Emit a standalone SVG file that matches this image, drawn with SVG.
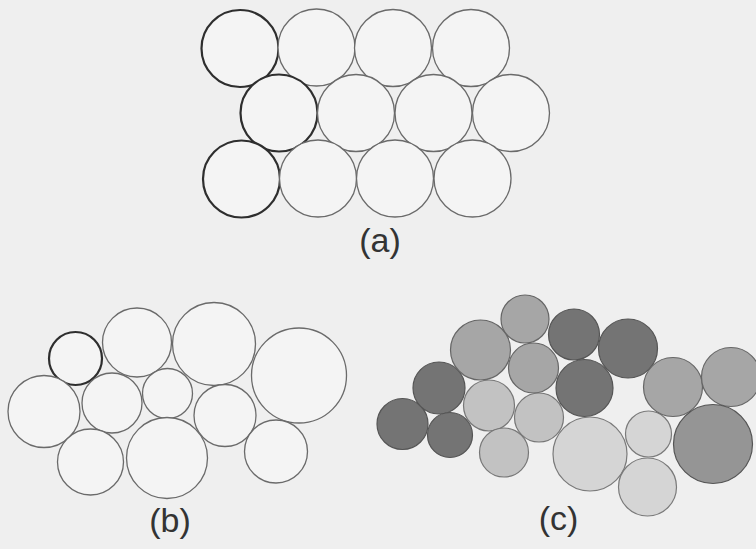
<svg xmlns="http://www.w3.org/2000/svg" width="756" height="549" viewBox="0 0 756 549">
<style>
.bg{fill:#efefef}
.o{fill:#f4f4f4;stroke:#6a6a6a;stroke-width:1.3}
.ob{fill:#f4f4f4;stroke:#2e2e2e;stroke-width:2.2}
.d{fill:#747474;stroke:#555;stroke-width:1.2}
.m{fill:#a6a6a6;stroke:#666;stroke-width:1.2}
.l{fill:#c2c2c2;stroke:#777;stroke-width:1.2}
.vl{fill:#d5d5d5;stroke:#7a7a7a;stroke-width:1.2}
.md{fill:#959595;stroke:#555;stroke-width:1.2}
.lab{font-family:'Liberation Sans',Arial,sans-serif;font-size:34px;fill:#333;text-anchor:middle}
</style>
<rect class="bg" width="756" height="549"/>
<g id="panel-a">
<circle id="a1" class="ob" cx="240" cy="48.5" r="38.5"/>
<circle id="a2" class="o" cx="316.5" cy="47.5" r="38.5"/>
<circle id="a3" class="o" cx="393" cy="48" r="38.5"/>
<circle id="a4" class="o" cx="471" cy="48" r="38.5"/>
<circle id="a5" class="ob" cx="279" cy="113" r="38.5"/>
<circle id="a6" class="o" cx="356" cy="113" r="38.5"/>
<circle id="a7" class="o" cx="433.5" cy="113" r="38.5"/>
<circle id="a8" class="o" cx="511" cy="113" r="38.5"/>
<circle id="a9" class="ob" cx="241.5" cy="179" r="38.5"/>
<circle id="a10" class="o" cx="318" cy="178.5" r="38.5"/>
<circle id="a11" class="o" cx="395" cy="178.5" r="38.5"/>
<circle id="a12" class="o" cx="472.5" cy="178.5" r="38.5"/>
<text class="lab" x="380" y="252">(a)</text>
</g>
<g id="panel-b">
<circle id="b1" class="ob" cx="75.5" cy="358.5" r="26.5"/>
<circle id="b2" class="o" cx="137" cy="342.5" r="34.5"/>
<circle id="b3" class="o" cx="214" cy="344" r="41.5"/>
<circle id="b4" class="o" cx="299" cy="375.5" r="47.5"/>
<circle id="b5" class="o" cx="44" cy="411.5" r="36"/>
<circle id="b6" class="o" cx="112" cy="403" r="30"/>
<circle id="b7" class="o" cx="167.5" cy="393.5" r="25"/>
<circle id="b8" class="o" cx="225" cy="415.5" r="31"/>
<circle id="b9" class="o" cx="90.5" cy="462" r="33"/>
<circle id="b10" class="o" cx="167" cy="458" r="40.5"/>
<circle id="b11" class="o" cx="276" cy="451.5" r="31.5"/>
<text class="lab" x="170" y="532">(b)</text>
</g>
<g id="panel-c">
<circle id="c1" class="d" cx="402.5" cy="424" r="25.5"/>
<circle id="c2" class="d" cx="439" cy="388" r="26"/>
<circle id="c3" class="d" cx="450" cy="435" r="22.5"/>
<circle id="c4" class="m" cx="480.5" cy="350" r="30"/>
<circle id="c5" class="l" cx="489" cy="405.5" r="25.5"/>
<circle id="c6" class="l" cx="504" cy="452.5" r="24.5"/>
<circle id="c7" class="m" cx="525" cy="319" r="24"/>
<circle id="c8" class="m" cx="533.5" cy="368" r="25"/>
<circle id="c9" class="l" cx="539" cy="417.5" r="24.5"/>
<circle id="c10" class="d" cx="574" cy="334.5" r="25.5"/>
<circle id="c11" class="d" cx="584.5" cy="388" r="28.5"/>
<circle id="c12" class="d" cx="628" cy="348.5" r="29.5"/>
<circle id="c13" class="vl" cx="590" cy="454" r="37"/>
<circle id="c14" class="vl" cx="648.5" cy="434" r="23"/>
<circle id="c15" class="vl" cx="647.5" cy="487" r="29"/>
<circle id="c16" class="m" cx="673" cy="387" r="29.5"/>
<circle id="c17" class="m" cx="731" cy="377" r="29.5"/>
<circle id="c18" class="md" cx="713" cy="444" r="39.5"/>
<text class="lab" x="558.5" y="530">(c)</text>
</g>
</svg>
